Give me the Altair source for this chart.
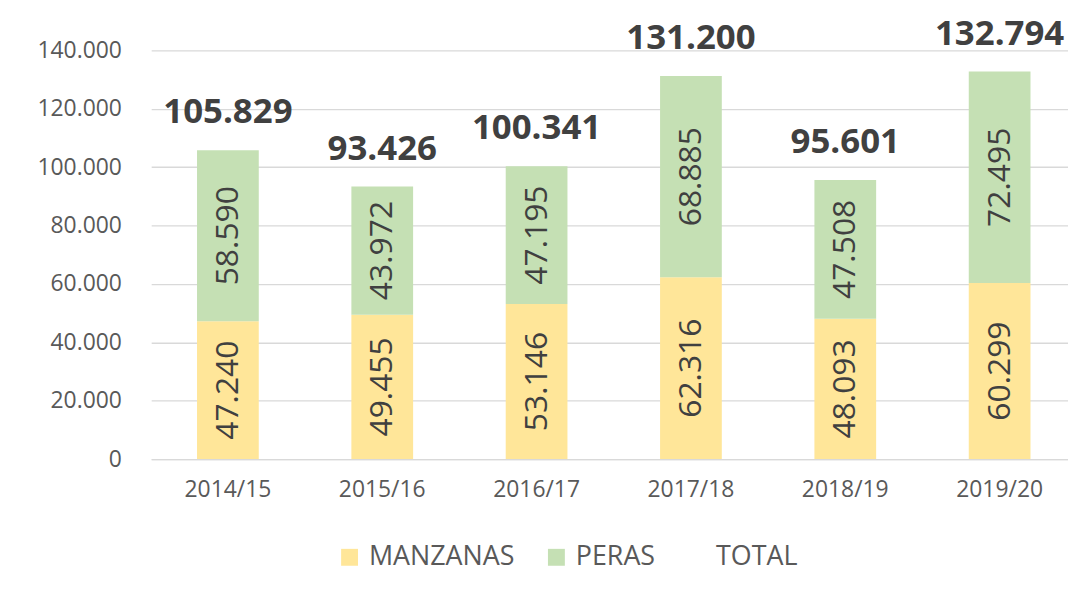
import altair as alt
import pandas as pd

campanias = ["2014/15", "2015/16", "2016/17", "2017/18", "2018/19", "2019/20"]
manzanas = [47240, 49455, 53146, 62316, 48093, 60299]
peras = [58590, 43972, 47195, 68885, 47508, 72495]
totales = [105829, 93426, 100341, 131200, 95601, 132794]
series = ["MANZANAS", "PERAS", "TOTAL"]
colores = ["#FFE699", "#C5E0B4", "transparent"]
y_ticks = [0, 20000, 40000, 60000, 80000, 100000, 120000, 140000]


def fmt(v):
    return f"{v:,}".replace(",", ".")


rows = []
for c, m, p in zip(campanias, manzanas, peras):
    rows.append({"campania": c, "serie": "MANZANAS", "y0": 0, "y1": m,
                 "mid": m / 2, "label": fmt(m)})
    rows.append({"campania": c, "serie": "PERAS", "y0": m, "y1": m + p,
                 "mid": m + p / 2, "label": fmt(p)})
seg = pd.DataFrame(rows)
tot = pd.DataFrame({"campania": campanias, "total": totales,
                    "label": [fmt(t) for t in totales]})

FONT = "Open Sans"
x_enc = alt.X("campania:N", sort=campanias, title=None,
              scale=alt.Scale(paddingInner=0.6, paddingOuter=0.27, align=0.55),
              axis=alt.Axis(labelAngle=0, labelFont=FONT, labelFontSize=23,
                            labelColor="#595959", labelPadding=20, ticks=False,
                            domainColor="#D9D9D9", domainWidth=1.3, grid=False))
y_scale = alt.Scale(domain=[0, 140000], nice=False)

bars = alt.Chart(seg).mark_bar().encode(
    x=x_enc,
    y=alt.Y("y0:Q", scale=y_scale, title=None,
            axis=alt.Axis(values=y_ticks, labelFont=FONT, labelFontSize=23,
                          labelColor="#595959", labelPadding=30, ticks=False,
                          domain=False, gridColor="#D9D9D9", gridWidth=1.3,
                          labelExpr="replace(format(datum.value, ',d'), ',', '.')")),
    y2="y1:Q",
    color=alt.Color("serie:N", scale=alt.Scale(domain=series, range=colores),
                    legend=alt.Legend(title=None, orient="none", direction="horizontal",
                                      legendX=186, legendY=496, symbolType="square",
                                      symbolSize=289, symbolStrokeWidth=0,
                                      labelFont=FONT, labelFontSize=27,
                                      labelColor="#595959", labelOffset=6,
                                      columnPadding=28, columns=3)),
)

seg_text = alt.Chart(seg).mark_text(angle=270, font=FONT, fontSize=32,
                                    color="#404040", baseline="middle",
                                    align="center").encode(
    x=alt.X("campania:N", sort=campanias),
    y=alt.Y("mid:Q", scale=y_scale),
    text="label:N",
)

tot_text = alt.Chart(tot).mark_text(font=FONT, fontSize=35, fontWeight="bold",
                                    color="#404040", baseline="middle",
                                    align="center", dy=-38).encode(
    x=alt.X("campania:N", sort=campanias),
    y=alt.Y("total:Q", scale=y_scale),
    text="label:N",
)

chart = alt.layer(bars, seg_text, tot_text).properties(
    width=922, height=411,
    autosize=alt.AutoSizeParams(type="none"),
    padding={"left": 144, "top": 41, "right": 0, "bottom": 135},
).configure_view(stroke=None)

chart.save("out.html", embed_options={"renderer": "svg", "actions": False})
